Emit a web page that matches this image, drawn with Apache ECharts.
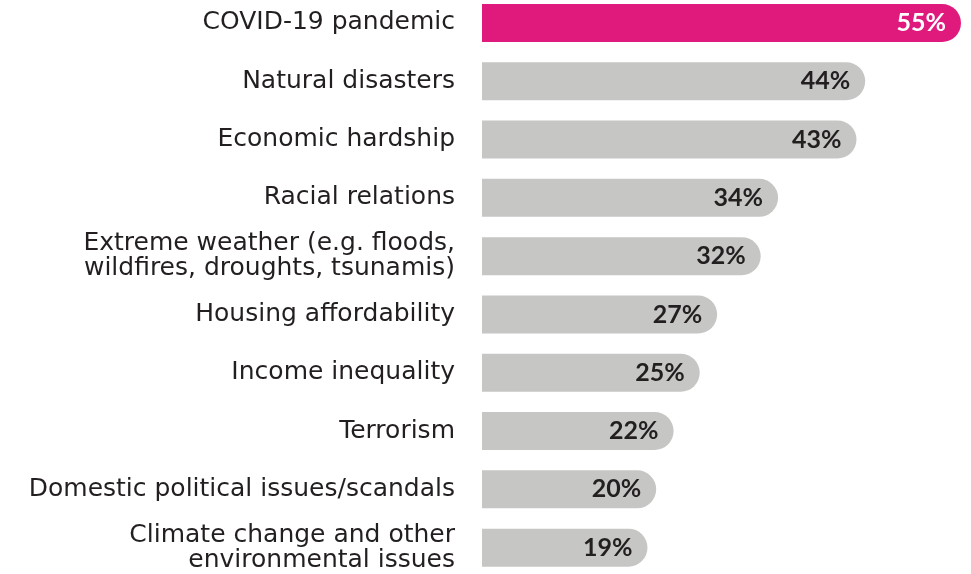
<!DOCTYPE html>
<html>
<head>
<meta charset="utf-8">
<style>
  html, body { margin: 0; padding: 0; background: #ffffff; }
  #grafico { width: 971px; height: 574px; }
</style>
<script src="https://cdn.jsdelivr.net/npm/echarts@6/dist/echarts.min.js"></script>
</head>
<body>
<div id="grafico"></div>
<script>
// Categorías de arriba hacia abajo
const categorias = [
    'COVID-19 pandemic',
    'Natural disasters',
    'Economic hardship',
    'Racial relations',
    'Extreme weather (e.g. floods,\nwildfires, droughts, tsunamis)',
    'Housing affordability',
    'Income inequality',
    'Terrorism',
    'Domestic political issues/scandals',
    'Climate change and other\nenvironmental issues'
];

const valores = [55, 44, 43, 34, 32, 27, 25, 22, 20, 19];

const colorDestacado = '#e0197d';
const colorGris = '#c6c6c5';
const colorTexto = '#231f20';

const grafico = echarts.init(document.getElementById('grafico'));

const datosBarras = valores.map((v, i) => ({
    value: v,
    itemStyle: { color: i === 0 ? colorDestacado : colorGris },
    label: { color: i === 0 ? '#ffffff' : colorTexto }
}));

grafico.setOption({
    backgroundColor: '#ffffff',
    animation: false,
    grid: {
        left: 482,
        right: 10,
        top: -6.2,
        height: 583,
        outerBoundsMode: 'none',
        containLabel: false
    },
    xAxis: {
        type: 'value',
        min: 0,
        max: 55,
        show: false
    },
    yAxis: {
        type: 'category',
        data: categorias,
        inverse: true,
        axisLine: { show: false },
        axisTick: { show: false },
        axisLabel: {
            margin: 27,
            fontFamily: 'DejaVu Sans',
            fontSize: 25,
            lineHeight: 25,
            color: colorTexto,
            align: 'right'
        }
    },
    series: [{
        type: 'bar',
        data: datosBarras,
        barWidth: 38,
        itemStyle: { borderRadius: [0, 19, 19, 0] },
        label: {
            show: true,
            position: 'insideRight',
            distance: 15,
            formatter: '{c}%',
            fontFamily: 'Lato',
            fontWeight: 'bold',
            fontSize: 25
        }
    }]
});
</script>
</body>
</html>
